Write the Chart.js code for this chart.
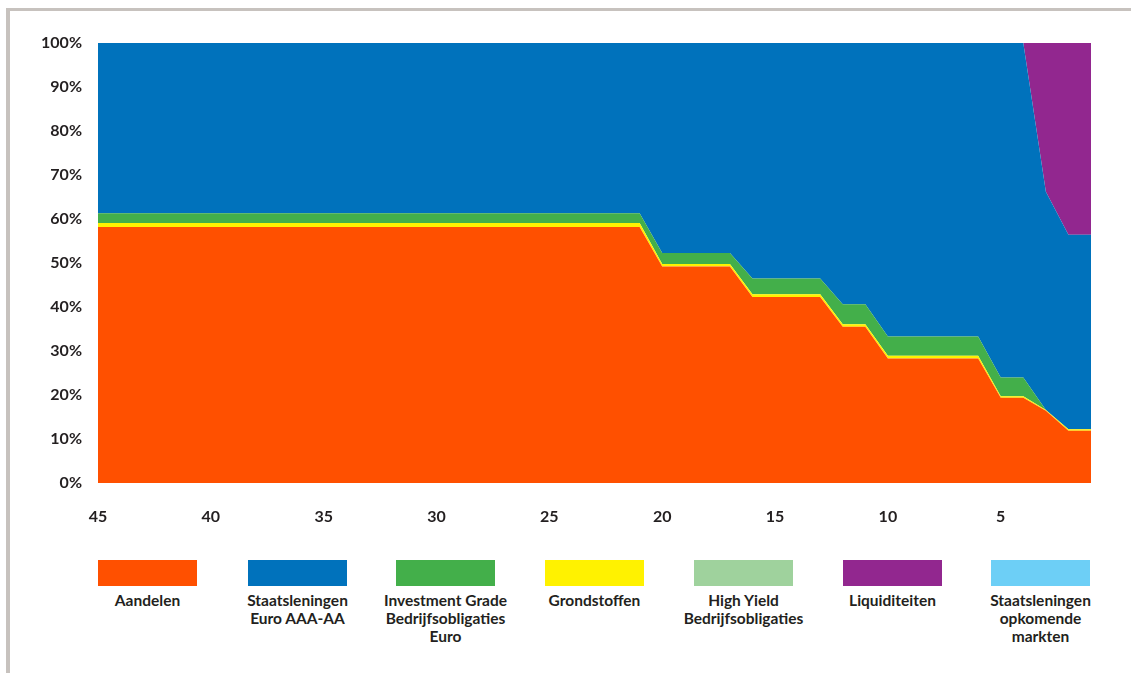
<!DOCTYPE html>
<html lang="nl">
<head>
<meta charset="utf-8">
<title>Beleggingsmix per jaar tot pensioen</title>
<script src="https://cdn.jsdelivr.net/npm/chart.js@4/dist/chart.umd.min.js"></script>
<style>
  html, body { margin: 0; padding: 0; background: #ffffff; }
  body { width: 1131px; height: 673px; position: relative; overflow: hidden; font-family: Lato, "Open Sans", sans-serif; }
  .frame-top { position: absolute; left: 6px; top: 8px; width: 1125px; height: 3px; background: #c7c2be; }
  .frame-left { position: absolute; left: 6px; top: 8px; width: 4px; height: 665px; background: #c7c2be; }
  #wrap { position: absolute; left: 0; top: 0; width: 1131px; height: 560px; }
  #legend { position: absolute; left: 0; top: 560px; width: 1131px; height: 110px; }
  .item { position: absolute; top: 0; width: 99px; text-align: center; }
  .swatch { width: 99px; height: 26px; }
  .text { margin-top: 5px; font-size: 15.5px; font-weight: 700; color: #231f20; line-height: 18px; white-space: nowrap; margin-left: -30px; margin-right: -30px; }
</style>
</head>
<body>
<div class="frame-top"></div>
<div class="frame-left"></div>
<div id="wrap"><canvas id="chart" width="1131" height="560"></canvas></div>
<div id="legend"></div>
<script>
// Years until retirement, from 45 down to 1
const years = [45, 44, 43, 42, 41, 40, 39, 38, 37, 36, 35, 34, 33, 32, 31, 30, 29, 28, 27, 26,
               25, 24, 23, 22, 21, 20, 19, 18, 17, 16, 15, 14, 13, 12, 11, 10, 9, 8, 7, 6,
               5, 4, 3, 2, 1];

// Allocation per year (percent of portfolio)
const aandelen = [58.2, 58.2, 58.2, 58.2, 58.2, 58.2, 58.2, 58.2, 58.2, 58.2, 58.2, 58.2, 58.2, 58.2, 58.2,
                  58.2, 58.2, 58.2, 58.2, 58.2, 58.2, 58.2, 58.2, 58.2, 58.2,
                  49.2, 49.2, 49.2, 49.2, 42.3, 42.3, 42.3, 42.3, 35.5, 35.5,
                  28.3, 28.3, 28.3, 28.3, 28.3, 19.4, 19.4, 16.4, 11.9, 11.9];
const grondstoffen = [0.9, 0.9, 0.9, 0.9, 0.9, 0.9, 0.9, 0.9, 0.9, 0.9, 0.9, 0.9, 0.9, 0.9, 0.9,
                      0.9, 0.9, 0.9, 0.9, 0.9, 0.9, 0.9, 0.9, 0.9, 0.9,
                      0.6, 0.6, 0.6, 0.6, 0.6, 0.6, 0.6, 0.6, 0.6, 0.6,
                      0.6, 0.6, 0.6, 0.6, 0.6, 0.3, 0.3, 0.2, 0.3, 0.3];
const investmentGrade = [2.2, 2.2, 2.2, 2.2, 2.2, 2.2, 2.2, 2.2, 2.2, 2.2, 2.2, 2.2, 2.2, 2.2, 2.2,
                         2.2, 2.2, 2.2, 2.2, 2.2, 2.2, 2.2, 2.2, 2.2, 2.2,
                         2.5, 2.5, 2.5, 2.5, 3.6, 3.6, 3.6, 3.6, 4.5, 4.5,
                         4.4, 4.4, 4.4, 4.4, 4.4, 4.3, 4.3, 0, 0, 0];
const highYield = [0, 0, 0, 0, 0, 0, 0, 0, 0, 0, 0, 0, 0, 0, 0, 0, 0, 0, 0, 0, 0, 0, 0, 0, 0,
                   0, 0, 0, 0, 0, 0, 0, 0, 0, 0, 0, 0, 0, 0, 0, 0, 0, 0, 0, 0];
const opkomendeMarkten = [0, 0, 0, 0, 0, 0, 0, 0, 0, 0, 0, 0, 0, 0, 0, 0, 0, 0, 0, 0, 0, 0, 0, 0, 0,
                          0, 0, 0, 0, 0, 0, 0, 0, 0, 0, 0, 0, 0, 0, 0, 0, 0, 0, 0, 0];
const staatsleningenAAA = [38.7, 38.7, 38.7, 38.7, 38.7, 38.7, 38.7, 38.7, 38.7, 38.7, 38.7, 38.7, 38.7, 38.7, 38.7,
                           38.7, 38.7, 38.7, 38.7, 38.7, 38.7, 38.7, 38.7, 38.7, 38.7,
                           47.7, 47.7, 47.7, 47.7, 53.5, 53.5, 53.5, 53.5, 59.4, 59.4,
                           66.7, 66.7, 66.7, 66.7, 66.7, 76.0, 76.0, 49.6, 44.2, 44.2];
const liquiditeiten = [0, 0, 0, 0, 0, 0, 0, 0, 0, 0, 0, 0, 0, 0, 0, 0, 0, 0, 0, 0, 0, 0, 0, 0, 0,
                       0, 0, 0, 0, 0, 0, 0, 0, 0, 0, 0, 0, 0, 0, 0, 0, 0, 33.8, 43.6, 43.6];

// Y-axis tick values
const yTicks = [0, 10, 20, 30, 40, 50, 60, 70, 80, 90, 100];

// Series in stacking order (bottom to top)
const series = [
  { label: 'Aandelen', text: ['Aandelen'], data: aandelen, color: '#ff5000' },
  { label: 'Grondstoffen', text: ['Grondstoffen'], data: grondstoffen, color: '#fff200' },
  { label: 'Investment Grade Bedrijfsobligaties Euro', text: ['Investment Grade', 'Bedrijfsobligaties', 'Euro'], data: investmentGrade, color: '#43af4a' },
  { label: 'High Yield Bedrijfsobligaties', text: ['High Yield', 'Bedrijfsobligaties'], data: highYield, color: '#9fd29d' },
  { label: 'Staatsleningen opkomende markten', text: ['Staatsleningen', 'opkomende', 'markten'], data: opkomendeMarkten, color: '#6dcff6' },
  { label: 'Staatsleningen Euro AAA-AA', text: ['Staatsleningen', 'Euro AAA-AA'], data: staatsleningenAAA, color: '#0072bc' },
  { label: 'Liquiditeiten', text: ['Liquiditeiten'], data: liquiditeiten, color: '#92278f' }
];

// Order of the legend entries, left to right
const legendOrder = ['Aandelen', 'Staatsleningen Euro AAA-AA', 'Investment Grade Bedrijfsobligaties Euro',
                     'Grondstoffen', 'High Yield Bedrijfsobligaties', 'Liquiditeiten', 'Staatsleningen opkomende markten'];

const tickFont = { family: 'Lato', size: 16, weight: 'bold' };

new Chart(document.getElementById('chart'), {
  type: 'line',
  data: {
    labels: years.map(String),
    datasets: series.map((s, i) => ({
      label: s.label,
      data: s.data,
      backgroundColor: s.color,
      borderColor: s.color,
      borderWidth: 0,
      pointRadius: 0,
      tension: 0,
      fill: i === 0 ? 'origin' : '-1'
    }))
  },
  options: {
    responsive: false,
    animation: false,
    layout: { padding: { left: 0, right: 40, top: 43, bottom: 36 } },
    plugins: { legend: { display: false }, tooltip: { enabled: false } },
    scales: {
      x: {
        offset: false,
        grid: { display: false, drawTicks: false },
        border: { display: false },
        ticks: {
          autoSkip: false,
          maxRotation: 0,
          padding: 24,
          color: '#231f20',
          font: tickFont,
          callback: function (value, index) {
            const y = years[index];
            return (y % 5 === 0) ? String(y) : '';
          }
        },
        afterFit: function (scale) { scale.height = 41; }
      },
      y: {
        stacked: true,
        min: 0,
        max: 100,
        afterBuildTicks: function (scale) { scale.ticks = yTicks.map(v => ({ value: v })); },
        grid: { display: false, drawTicks: false },
        border: { display: false },
        ticks: {
          padding: 16,
          color: '#231f20',
          font: tickFont,
          callback: v => v + '%'
        },
        afterFit: function (scale) { scale.width = 98; }
      }
    }
  }
});

// Legend: coloured block with the series name centred beneath it
const legend = document.getElementById('legend');
const legendLeft = [98, 248, 396, 545, 694, 843, 991];
legendOrder.forEach((name, i) => {
  const s = series.find(d => d.label === name);
  const item = document.createElement('div');
  item.className = 'item';
  item.style.left = legendLeft[i] + 'px';
  const sw = document.createElement('div');
  sw.className = 'swatch';
  sw.style.background = s.color;
  const tx = document.createElement('div');
  tx.className = 'text';
  tx.innerHTML = s.text.join('<br>');
  item.appendChild(sw);
  item.appendChild(tx);
  legend.appendChild(item);
});
</script>
</body>
</html>
